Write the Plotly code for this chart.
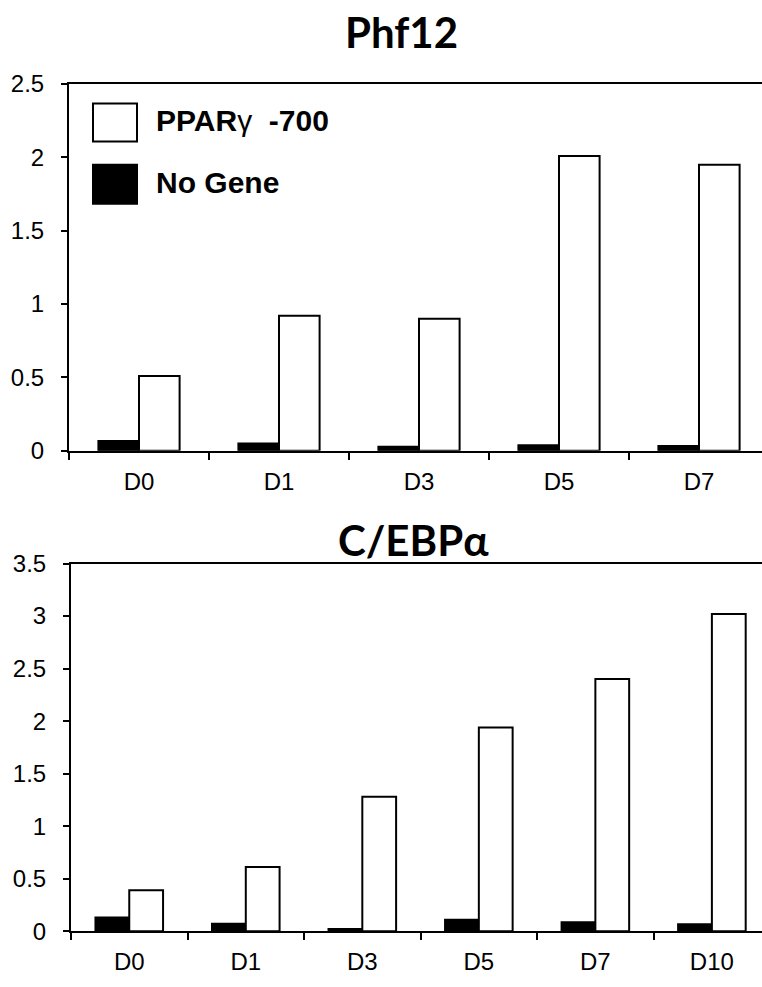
import plotly.graph_objects as go

W, H = 762, 987

# ---- data ----
cats_top = ["D0", "D1", "D3", "D5", "D7"]
ppar_top = [0.51, 0.92, 0.90, 2.01, 1.95]
nogene_top = [0.066, 0.05, 0.027, 0.037, 0.032]

cats_bot = ["D0", "D1", "D3", "D5", "D7", "D10"]
ppar_bot = [0.39, 0.61, 1.28, 1.94, 2.40, 3.02]
nogene_bot = [0.13, 0.071, 0.02, 0.11, 0.086, 0.065]

title_top = "Phf12"
title_bot = "C/EBPα"
legend_labels = ["PPAR<span style='font-weight:normal'>γ</span>&nbsp; -700", "No Gene"]

def px(x):
    return x / W

def py(y):
    return 1 - y / H

fig = go.Figure()
bar_line = dict(color="black", width=2)
fig.add_trace(go.Bar(x=cats_top, y=nogene_top, marker=dict(color="black", line=bar_line),
                     xaxis="x", yaxis="y", showlegend=False))
fig.add_trace(go.Bar(x=cats_top, y=ppar_top, marker=dict(color="white", line=bar_line),
                     xaxis="x", yaxis="y", showlegend=False))
fig.add_trace(go.Bar(x=cats_bot, y=nogene_bot, marker=dict(color="black", line=bar_line),
                     xaxis="x2", yaxis="y2", showlegend=False))
fig.add_trace(go.Bar(x=cats_bot, y=ppar_bot, marker=dict(color="white", line=bar_line),
                     xaxis="x2", yaxis="y2", showlegend=False))

tick_font = dict(family="Liberation Sans, Arial, sans-serif", size=24, color="black")
xcommon = dict(type="category", showline=True, linecolor="black", linewidth=2, mirror=True,
               ticks="outside", ticklen=7, tickwidth=2, tickcolor="black", tickson="boundaries",
               showgrid=False, zeroline=False, tickfont=tick_font, ticklabelstandoff=8,
               fixedrange=True)
ycommon = dict(showline=True, linecolor="black", linewidth=2, ticks="outside", ticklen=6,
               tickwidth=2, tickcolor="black", showgrid=False, zeroline=False, dtick=0.5,
               tickfont=tick_font, ticklabelstandoff=12)

fig.update_layout(
    width=W, height=H,
    margin=dict(l=0, r=0, t=0, b=0),
    paper_bgcolor="white", plot_bgcolor="white",
    barmode="group", bargap=0.42, bargroupgap=0,
    xaxis=dict(xcommon, domain=[px(69), 1], range=[-0.5, 4.45], anchor="y"),
    yaxis=dict(ycommon, domain=[py(449), py(72)], range=[0, 2.5], anchor="x"),
    xaxis2=dict(xcommon, domain=[px(71), 1], range=[-0.5, 5.43], anchor="y2"),
    yaxis2=dict(ycommon, domain=[py(943), py(565)], range=[0, 3.5], anchor="x2"),
    showlegend=False,
)

title_font = dict(family="Lato, Open Sans, sans-serif", size=42, color="black", weight="bold")
fig.add_annotation(text=title_top, x=px(402), y=py(19), xref="paper", yref="paper",
                   showarrow=False, xanchor="center", yanchor="middle", font=title_font)
fig.add_annotation(text=title_bot, x=px(413), y=py(541), xref="paper", yref="paper",
                   showarrow=False, xanchor="center", yanchor="middle", font=title_font)

# legend (manual, to match large swatches)
swatches = [("white", 92, 131), ("black", 155, 195)]
for (fill, y0, y1), label in zip(swatches, legend_labels):
    fig.add_shape(type="rect", xref="paper", yref="paper",
                  x0=px(93), x1=px(137), y0=py(y1), y1=py(y0),
                  fillcolor=fill, line=dict(color="black", width=2))
    fig.add_annotation(text=label, x=px(154), y=py((y0 + y1) / 2 - 2), xref="paper", yref="paper",
                       showarrow=False, xanchor="left", yanchor="middle",
                       font=dict(family="Liberation Sans, Arial, sans-serif", size=30,
                                 color="black", weight="bold"))

fig.write_html("out.html")
